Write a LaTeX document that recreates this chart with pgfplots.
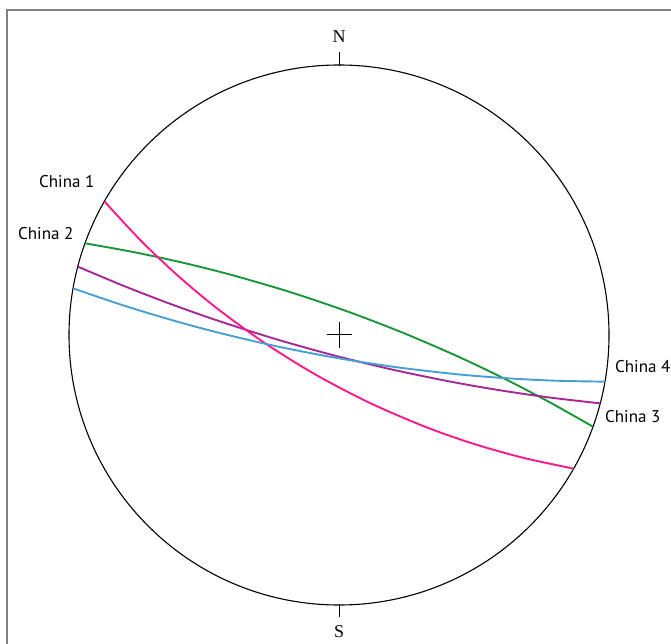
\documentclass[border=0pt]{standalone}
\usepackage{pgfplots}
\pgfplotsset{compat=1.18}
\usepackage{fontspec}
\setmainfont{PT Sans}
\newfontfamily\serifN{Liberation Serif}
\definecolor{cpink}{RGB}{255,25,140}
\definecolor{cgreen}{RGB}{25,150,55}
\definecolor{cpurple}{RGB}{165,40,150}
\definecolor{cblue}{RGB}{70,160,210}
\definecolor{frame}{RGB}{128,128,128}
\begin{document}
\begin{tikzpicture}
\begin{axis}[
  x=1pt, y=1pt,
  xmin=-339, xmax=332, ymin=-308, ymax=335,
  hide axis, clip=false,
]
\coordinate (bl) at (axis cs:-339,-308);
\coordinate (tr) at (axis cs:332,335);
% frame
\draw[frame, line width=1.6pt] (axis cs:-332,-330) -- (axis cs:-332,325) -- (axis cs:350,325);
% primitive circle
\draw[black, line width=1.1pt] (axis cs:0,0) circle [radius=270];
\draw[black, line width=1pt] (axis cs:0,269) -- (axis cs:0,283);
\draw[black, line width=1pt] (axis cs:0,-269) -- (axis cs:0,-282);
% centre cross
\draw[black, line width=1pt] (axis cs:-12.5,0) -- (axis cs:12.5,0);
\draw[black, line width=1pt] (axis cs:0,-12.5) -- (axis cs:0,12.5);
% China 2
\addplot[cgreen, line width=1.9pt, smooth] coordinates {
(-253.96,91.69) (-204.06,82.66) (-154.76,71.97) (-106.04,59.66) (-48.36,42.75)
(8.49,23.52) (64.52,1.99) (119.70,-21.84) (165.04,-43.49) (209.80,-66.76) (253.96,-91.69)};
% China 3
\addplot[cpurple, line width=1.9pt, smooth] coordinates {
(-261.2,68.36) (-214.63,48.84) (-167.68,30.75) (-120.36,14.06) (-63.10,-4.13)
(-5.32,-20.32) (52.98,-34.51) (111.82,-46.70) (161.24,-55.33) (211.03,-62.56) (261.2,-68.36)};
% China 1
\addplot[cpink, line width=1.9pt, smooth] coordinates {
(-234.60,133.65) (-198.96,95.21) (-161.61,59.75) (-122.64,27.15) (-73.81,-8.35)
(-22.77,-39.97) (30.45,-67.75) (85.90,-91.65) (133.81,-108.55) (183.36,-122.59) (234.60,-133.65)};
% China 4
\addplot[cblue, line width=1.9pt, smooth] coordinates {
(-265.95,46.66) (-218.04,30.37) (-169.85,15.69) (-121.39,2.54) (-62.88,-11.17)
(-3.97,-22.66) (55.32,-31.91) (115.01,-38.94) (165.05,-43.07) (215.36,-45.67) (265.95,-46.66)};
% labels
\node[font=\fontsize{17}{19}\selectfont, anchor=base west, inner sep=0pt] at (axis cs:-300,147) {China 1};
\node[font=\fontsize{17}{19}\selectfont, anchor=base west, inner sep=0pt] at (axis cs:-321,95) {China 2};
\node[font=\fontsize{17}{19}\selectfont, anchor=base west, inner sep=0pt] at (axis cs:276,-37) {China 4};
\node[font=\fontsize{17}{19}\selectfont, anchor=base west, inner sep=0pt] at (axis cs:266,-87) {China 3};
\node[font=\serifN\fontsize{18}{20}\selectfont, anchor=base, inner sep=0pt] at (axis cs:0,292) {N};
\node[font=\serifN\fontsize{18}{20}\selectfont, anchor=base, inner sep=0pt] at (axis cs:0,-302) {S};
\end{axis}
\pgfresetboundingbox
\useasboundingbox (bl) rectangle (tr);
\end{tikzpicture}
\end{document}
